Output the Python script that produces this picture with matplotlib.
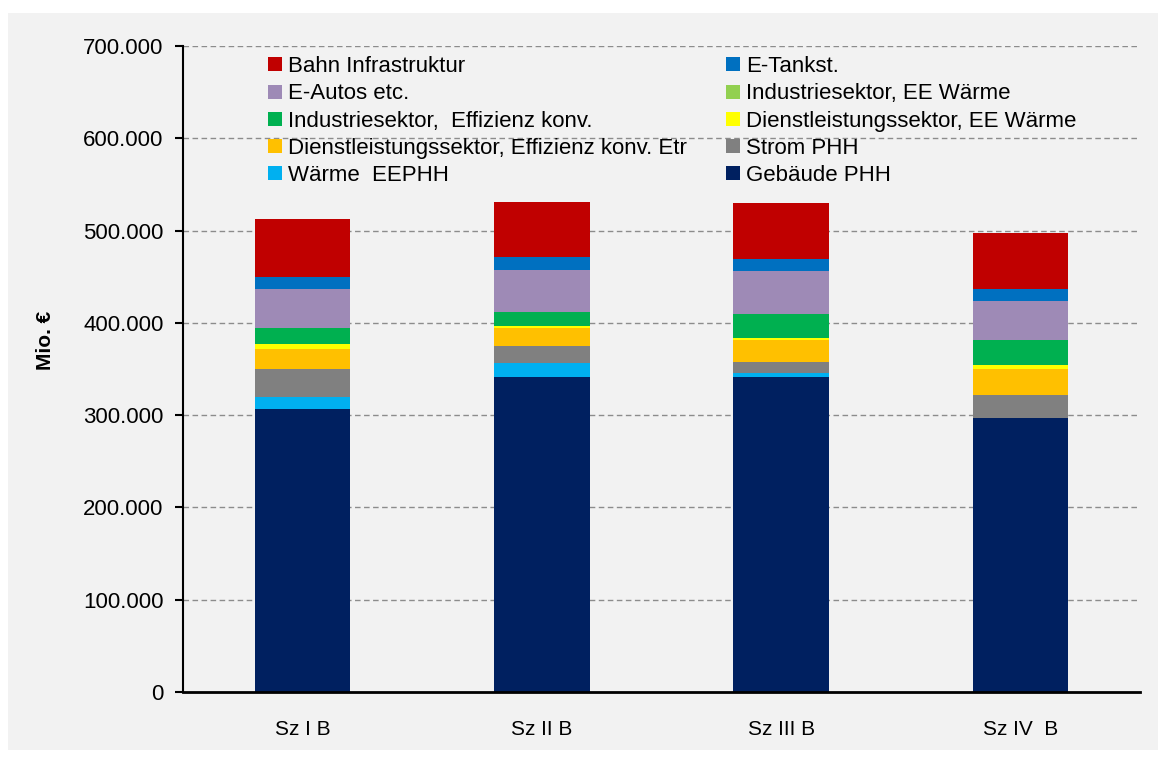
import numpy as np
import matplotlib.pyplot as plt
from matplotlib.patches import Rectangle
from matplotlib.ticker import FuncFormatter

plt.rcParams['font.family'] = ['Liberation Sans', 'DejaVu Sans']

# ---------- Daten (Mio. €) ----------
szenarien = ["Sz I B", "Sz II B", "Sz III B", "Sz IV  B"]

gebaeude_phh      = [307000, 341000, 341000, 297000]
waerme_eephh      = [13000, 15500, 4300, 0]
strom_phh         = [30300, 18800, 12600, 25200]
dl_effizienz      = [21400, 19500, 23200, 28100]
dl_ee_waerme      = [5700, 1800, 2100, 4400]
ind_effizienz     = [17000, 15200, 26700, 26400]
ind_ee_waerme     = [-2500, -2500, -2500, -500]
e_autos           = [42300, 45500, 46000, 42300]
e_tankst          = [13000, 13700, 13000, 13100]
bahn_infra        = [62800, 60300, 61000, 61100]

# Stapelreihenfolge von unten nach oben
serien = [
    ("Gebäude PHH", gebaeude_phh, "#002060"),
    ("Wärme EEPHH", waerme_eephh, "#00b0f0"),
    ("Strom PHH", strom_phh, "#808080"),
    ("Dienstleistungssektor, Effizienz konv. Etr", dl_effizienz, "#ffc000"),
    ("Dienstleistungssektor, EE Wärme", dl_ee_waerme, "#ffff00"),
    ("Industriesektor, Effizienz konv.", ind_effizienz, "#00b050"),
    ("Industriesektor, EE Wärme", ind_ee_waerme, "#92d050"),
    ("E-Autos etc.", e_autos, "#9e8ab6"),
    ("E-Tankst.", e_tankst, "#0070c0"),
    ("Bahn Infrastruktur", bahn_infra, "#c00000"),
]

# Legende zeilenweise wie im Original (2 Spalten)
legende_spalte1 = ["Bahn Infrastruktur", "E-Autos etc.", "Industriesektor,  Effizienz konv.",
                   "Dienstleistungssektor, Effizienz konv. Etr", "Wärme  EEPHH"]
legende_keys1 = ["Bahn Infrastruktur", "E-Autos etc.", "Industriesektor, Effizienz konv.",
                 "Dienstleistungssektor, Effizienz konv. Etr", "Wärme EEPHH"]
legende_spalte2 = ["E-Tankst.", "Industriesektor, EE Wärme", "Dienstleistungssektor, EE Wärme",
                   "Strom PHH", "Gebäude PHH"]

BG = "#f2f2f2"

fig = plt.figure(figsize=(11.66, 7.63), dpi=100, facecolor="white")
fig.patches.append(Rectangle((8 / 1166, 1 - 750 / 763), 1150 / 1166, 737 / 763,
                             transform=fig.transFigure, facecolor=BG, edgecolor="none", zorder=-10))
ax = fig.add_axes([183 / 1166, 1 - 692 / 763, (1140 - 183) / 1166, (692 - 46) / 763])
ax.set_facecolor(BG)

x = np.arange(len(szenarien))
pos_bottom = np.zeros(len(szenarien))
neg_bottom = np.zeros(len(szenarien))
handles = {}
for name, vals, col in serien:
    v = np.array(vals, dtype=float)
    bottom = np.where(v >= 0, pos_bottom, neg_bottom)
    b = ax.bar(x, v, 0.4, bottom=bottom, color=col, edgecolor="none", zorder=3, label=name)
    handles[name] = b
    pos_bottom = pos_bottom + np.where(v >= 0, v, 0)
    neg_bottom = neg_bottom + np.where(v < 0, v, 0)

ax.set_xlim(-0.5, len(szenarien) - 0.5)
ax.set_ylim(0, 700000)
ax.set_yticks(np.arange(0, 700001, 100000))
ax.yaxis.set_major_formatter(FuncFormatter(lambda v, p: f"{v:,.0f}".replace(",", ".")))
ax.set_xticks(x)
ax.set_xticklabels(szenarien)
ax.tick_params(axis="x", length=0, pad=20, labelsize=15)
ax.tick_params(axis="y", length=6, width=1.5, direction="out", labelsize=16, pad=8)

for y in np.arange(100000, 700001, 100000):
    ax.axhline(y, color="#8c8c8c", lw=1, ls=(0, (4, 2.5)), zorder=1)

for s in ["top", "right"]:
    ax.spines[s].set_visible(False)
ax.spines["left"].set_linewidth(1.5)
ax.spines["bottom"].set_linewidth(2)
ax.spines["bottom"].set_zorder(4)

ax.set_ylabel("Mio. €", fontsize=15, fontweight="bold")
ax.yaxis.set_label_coords(-0.134, 0.545)

keys = legende_keys1 + legende_spalte2
labels = legende_spalte1 + legende_spalte2
leg = ax.legend([handles[n] for n in keys], labels, ncol=2, loc="upper left",
                bbox_to_anchor=(0.0798, 0.998), frameon=False, fontsize=16,
                handlelength=0.6, handleheight=0.6, handletextpad=0.27,
                columnspacing=1.8, labelspacing=0.28, borderaxespad=0)

fig.savefig("out.png", dpi=100, facecolor="white")
